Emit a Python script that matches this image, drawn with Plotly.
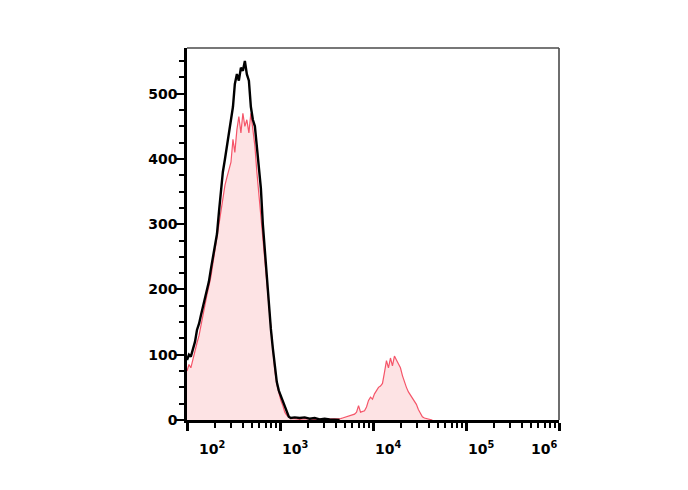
import plotly.graph_objects as go

# Fluorescence intensity (channel) and event counts
control_intensity = [100, 105, 110, 116, 122, 128, 135, 141, 149, 156, 164, 172, 181, 190, 200,
                     210, 221, 232, 243, 256, 269, 282, 297, 312, 327, 344, 361, 380, 399, 419,
                     440, 463, 486, 511, 537, 564, 593, 623, 654, 687, 722, 759, 797, 837, 880,
                     924, 971, 1020, 1072, 1126, 1183, 1243, 1306, 1439, 1629, 1842, 2084, 2359,
                     2669, 3020, 3417, 3866, 4375]
control_count = [92, 100, 97, 108, 120, 138, 148, 160, 175, 188, 200, 212, 232, 248, 265,
                 285, 320, 350, 380, 400, 420, 440, 460, 480, 515, 530, 520, 540, 535, 550,
                 530, 520, 480, 460, 450, 420, 385, 355, 300, 258, 222, 185, 140, 110, 80,
                 58, 45, 37, 28, 18, 10, 5, 3, 4, 3, 4, 2, 3,
                 1, 2, 1, 0, 0]

sample_intensity = [100, 105, 110, 116, 122, 128, 135, 141, 149, 156, 164, 172, 181, 190, 200,
                    210, 221, 232, 243, 256, 269, 282, 297, 312, 327, 344, 361, 380, 399, 419,
                    440, 463, 486, 511, 537, 564, 593, 623, 654, 687, 722, 759, 797, 837, 880,
                    924, 971, 1020, 1072, 1126, 1183, 1243, 1306, 1439, 1629, 1842, 2084, 2359,
                    2669, 3020, 3417, 3866, 4483, 4710, 4948, 5198, 5462, 5738, 6029, 6334, 6654,
                    6991, 7345, 7717, 8107, 8518, 8949, 9402, 9877, 10378, 10902, 11455, 12034,
                    12645, 13284, 13957, 14664, 15407, 16186, 17007, 17866, 18773, 19721, 20722,
                    21770, 22871, 24029, 25244, 26525, 27861, 29275, 30754, 32315, 33949, 35671,
                    37474, 39375, 41366, 43463]
sample_count = [75, 85, 80, 95, 105, 118, 130, 145, 160, 175, 192, 205, 220, 240, 262,
                280, 300, 322, 345, 360, 372, 385, 395, 430, 410, 445, 465, 440, 470, 450,
                460, 440, 470, 445, 420, 380, 345, 310, 275, 240, 210, 175, 135, 105, 75,
                55, 40, 30, 22, 12, 7, 4, 2, 2, 1, 2, 1, 1,
                1, 1, 1, 2, 2, 3, 4, 5, 6, 7, 8, 9, 12,
                22, 12, 13, 14, 20, 30, 35, 32, 40, 45, 50, 52,
                56, 73, 91, 80, 95, 83, 98, 92, 85, 80, 68,
                58, 50, 43, 38, 32, 28, 24, 16, 10, 5, 3,
                2, 1, 0, 0]

y_tick_vals = [0, 100, 200, 300, 400, 500]
x_tick_exps = [2, 3, 4, 5, 6]

fig = go.Figure()
fig.add_trace(go.Scatter(
    x=sample_intensity, y=sample_count, mode="lines",
    line=dict(color="rgb(245,85,105)", width=1.2),
    fill="tozeroy", fillcolor="rgb(253,227,228)", showlegend=False))
fig.add_trace(go.Scatter(
    x=control_intensity, y=control_count, mode="lines",
    line=dict(color="black", width=2.4), showlegend=False))

fig.update_layout(
    width=680, height=482,
    margin=dict(l=179, r=128.5, t=40, b=69.5),
    paper_bgcolor="white", plot_bgcolor="white",
    font=dict(family="DejaVu Sans", size=14, color="black"),
    xaxis=dict(type="log", range=[2, 6], showgrid=False, zeroline=False,
               showline=True, linecolor="black", linewidth=2.5,
               ticks="outside", ticklen=8, tickwidth=2.5, tickcolor="black",
               tickvals=[10 ** e for e in x_tick_exps], showticklabels=False,
               minor=dict(ticks="outside", ticklen=5, tickwidth=1.8, tickcolor="black",
                          dtick="D1", showgrid=False)),
    yaxis=dict(range=[0, 570], showgrid=False, zeroline=False,
               showline=True, linecolor="black", linewidth=2.5,
               ticks="outside", ticklen=9, tickwidth=2, tickcolor="black",
               tickvals=y_tick_vals, ticklabelstandoff=-5,
               tickfont=dict(family="DejaVu Sans", size=14, color="black", weight="bold"),
               minor=dict(ticks="outside", ticklen=5, tickwidth=1.8, tickcolor="black",
                          dtick=25, showgrid=False)),
    shapes=[
        dict(type="line", xref="paper", yref="paper", x0=0, x1=1, y0=1, y1=1,
             line=dict(color="#4a4a4a", width=1.6)),
        dict(type="line", xref="paper", yref="paper", x0=1, x1=1, y0=0, y1=1,
             line=dict(color="#4a4a4a", width=1.6)),
    ],
)

for e in x_tick_exps:
    anchor = "right" if e == 6 else "left"
    shift = 10 if e == 2 else 0
    fig.add_annotation(
        x=e, xref="x", y=0, yref="paper", yanchor="top", yshift=-17,
        xanchor=anchor, xshift=shift, showarrow=False,
        text=f"10<sup>{e}</sup>",
        font=dict(family="DejaVu Sans", size=14, color="black", weight="bold"))

fig.write_html("out.html")
